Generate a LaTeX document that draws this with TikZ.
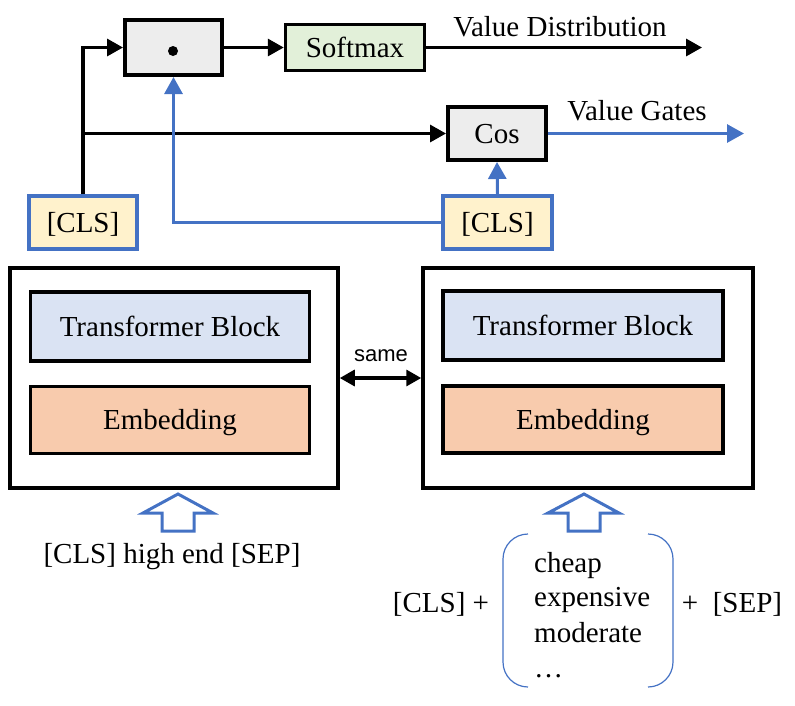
\documentclass[tikz,border=0pt]{standalone}
\usepackage{fontspec}
\setmainfont{Liberation Serif}
\setsansfont{Liberation Sans}
\usetikzlibrary{arrows.meta}
\definecolor{boxgray}{HTML}{EDEDED}
\definecolor{boxgreen}{HTML}{E2F0D9}
\definecolor{boxyellow}{HTML}{FFF2CC}
\definecolor{boxblue}{HTML}{DAE3F3}
\definecolor{boxorange}{HTML}{F8CBAD}
\definecolor{lineblue}{HTML}{4472C4}
\tikzset{
  txt/.style={font=\fontsize{29}{35}\selectfont, inner sep=0pt, text height=19.5pt, text depth=0pt},
  opbox/.style={draw=black, line width=4pt, fill=boxgray, txt},
  softbox/.style={draw=black, line width=3.5pt, fill=boxgreen, txt},
  clsbox/.style={draw=lineblue, line width=4pt, fill=boxyellow, txt},
  outbox/.style={draw=black, line width=3.5pt, fill=white},
  tfbox/.style={draw=black, line width=3.5pt, fill=boxblue, txt},
  embbox/.style={draw=black, line width=3.5pt, fill=boxorange, txt},
  blk/.style={draw=black, line width=3.3pt, -{Triangle[length=16pt,width=17pt]}},
  blu/.style={draw=lineblue, line width=3pt, -{Triangle[length=17pt,width=18pt]}},
  blockarrow/.style={draw=lineblue, line width=3pt, fill=white, line join=miter},
  bracket/.style={draw=lineblue, line width=1.2pt, rounded corners=25pt},
  sanslab/.style={font=\sffamily\fontsize{22}{26}\selectfont, inner sep=0pt, text height=16pt, text depth=0pt},
}
\begin{document}
\begin{tikzpicture}[x=1pt, y=-1pt]
\useasboundingbox (0,0) rectangle (795,705);

% top operators
\node[opbox, minimum width=97pt, minimum height=55pt] (dot) at (173.5,47.5) {};
\fill (173,51) circle (5pt);
\node[softbox, minimum width=139pt, minimum height=46pt] (soft) at (355,47.5) {Softmax};
\node[opbox, minimum width=98pt, minimum height=53pt] (cos) at (497,133.5) {Cos};

% CLS outputs
\node[clsbox, minimum width=108pt, minimum height=53pt] (clsL) at (83,222.5) {[CLS]};
\node[clsbox, minimum width=109pt, minimum height=53pt] (clsR) at (497.5,222.5) {[CLS]};

% encoders
\node[outbox, minimum width=328pt, minimum height=220pt] (outL) at (174,378) {};
\node[tfbox, minimum width=279pt, minimum height=69pt] (tfL) at (170,326.5) {Transformer Block};
\node[embbox, minimum width=279pt, minimum height=67pt] (embL) at (170,420) {Embedding};
\node[outbox, minimum width=330pt, minimum height=220pt] (outR) at (588,378) {};
\node[tfbox, minimum width=280pt, minimum height=69pt] (tfR) at (583,325.5) {Transformer Block};
\node[embbox, minimum width=280pt, minimum height=67pt] (embR) at (583,419.5) {Embedding};

% free ends
\coordinate (vdEnd) at (702,47.5);
\coordinate (vgEnd) at (744,133.5);

% connectors
\draw[blk] (clsL.north) |- (dot.west);
\draw[blk] (clsL.north |- cos.west) -- (cos.west);
\draw[blk] (dot.east) -- (soft.west);
\draw[blk] (soft.east) -- (vdEnd);
\node[txt] (vdLab) at (560,26.5) {Value Distribution};
\draw[blu] (clsR.west) -| (dot.south);
\draw[blu] (clsR.north) -- (cos.south);
\draw[blu] (cos.east) -- (vgEnd);
\node[txt] (vgLab) at (637,111) {Value Gates};

\draw[draw=black, line width=3.3pt, {Triangle[length=15pt,width=16pt]}-{Triangle[length=15pt,width=16pt]}] (outL.east) -- (outR.west);
\node[sanslab] (same) at (381,353) {same};

% input block arrows
\draw[blockarrow] (178,494) -- (213,513) -- (194,513) -- (194,531) -- (162,531) -- (162,513) -- (143,513) -- cycle;
\draw[blockarrow] (584,494) -- (619,513) -- (600,513) -- (600,531) -- (568,531) -- (568,513) -- (548,513) -- cycle;

% inputs
\node[txt] (inL) at (172,554) {[CLS] high end [SEP]};
\node[txt] (clsPlus) at (441,603) {[CLS] +};
\node[txt] (sepPlus) at (732,603) {+\ \ [SEP]};
\node[txt, anchor=west] (w1) at (534,563) {cheap};
\node[txt, anchor=west] (w2) at (534,597) {expensive};
\node[txt, anchor=west] (w3) at (534,633) {moderate};
\node[txt, anchor=west] (w4) at (534,668) {\dots};
\draw[bracket] (528,534) -- (503,534) -- (503,687) -- (528,687);
\draw[bracket] (648,534) -- (673,534) -- (673,687) -- (648,687);
\end{tikzpicture}
\end{document}
